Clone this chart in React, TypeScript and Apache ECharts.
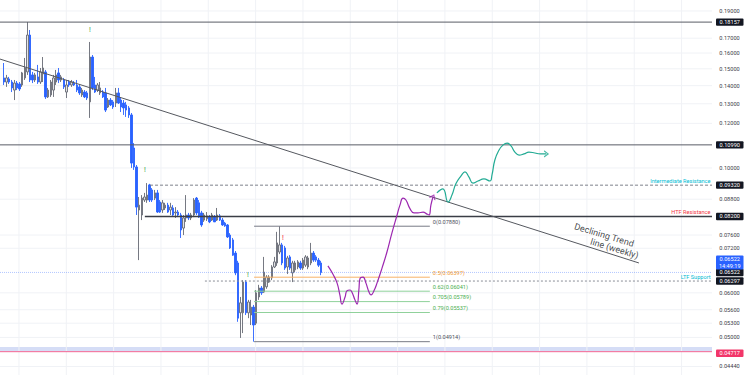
import React, { useEffect, useRef } from 'react';
import * as echarts from 'echarts';

// ---- candles: [open, close, low, high]
const ohlc: number[][] = [
  [0.1445,0.1421,0.1404,0.1536],[0.1421,0.1445,0.1393,0.1463],[0.1439,0.1421,0.1410,0.1451],[0.1421,0.1387,0.1364,0.1433],
  [0.1375,0.1415,0.1320,0.1433],[0.1415,0.1387,0.1375,0.1427],[0.1410,0.1381,0.1370,0.1421],[0.1404,0.1475,0.1393,0.1481],
  [0.1445,0.1505,0.1433,0.1568],[0.1481,0.1722,0.1463,0.1816],[0.1722,0.1433,0.1421,0.1758],[0.1463,0.1433,0.1415,0.1481],
  [0.1433,0.1463,0.1421,0.1475],[0.1451,0.1421,0.1410,0.1524],[0.1421,0.1481,0.1410,0.1505],[0.1469,0.1505,0.1421,0.1574],
  [0.1481,0.1337,0.1326,0.1493],[0.1337,0.1375,0.1331,0.1387],[0.1348,0.1421,0.1337,0.1433],[0.1375,0.1445,0.1337,0.1463],
  [0.1421,0.1463,0.1404,0.1493],[0.1475,0.1433,0.1415,0.1505],[0.1433,0.1451,0.1421,0.1463],[0.1433,0.1393,0.1381,0.1445],
  [0.1364,0.1404,0.1331,0.1433],[0.1421,0.1404,0.1393,0.1433],[0.1404,0.1421,0.1393,0.1433],[0.1415,0.1404,0.1398,0.1427],
  [0.1404,0.1375,0.1364,0.1433],[0.1393,0.1359,0.1348,0.1404],[0.1348,0.1375,0.1337,0.1387],[0.1364,0.1337,0.1331,0.1375],
  [0.1359,0.1331,0.1320,0.1370],[0.1310,0.1574,0.1227,0.1674],[0.1574,0.1387,0.1375,0.1587],[0.1404,0.1364,0.1359,0.1451],
  [0.1375,0.1404,0.1364,0.1415],[0.1359,0.1387,0.1348,0.1421],[0.1364,0.1337,0.1331,0.1375],[0.1359,0.1267,0.1257,0.1387],
  [0.1283,0.1320,0.1278,0.1331],[0.1320,0.1294,0.1288,0.1331],[0.1310,0.1283,0.1273,0.1320],[0.1304,0.1359,0.1283,0.1387],
  [0.1359,0.1304,0.1299,0.1387],[0.1320,0.1283,0.1257,0.1331],[0.1304,0.1278,0.1242,0.1320],[0.1294,0.1267,0.1232,0.1310],
  [0.1278,0.1242,0.1227,0.1288],[0.1242,0.1020,0.1000,0.1252],[0.1085,0.1004,0.0992,0.1107],[0.1004,0.0852,0.0825,0.1012],
  [0.0842,0.0859,0.0686,0.0888],[0.0825,0.0884,0.0808,0.0895],[0.0877,0.0888,0.0870,0.0903],[0.0877,0.0895,0.0867,0.0940],
  [0.0933,0.0877,0.0870,0.0937],[0.0914,0.0877,0.0870,0.0921],[0.0884,0.0903,0.0877,0.0914],[0.0903,0.0835,0.0832,0.0914],
  [0.0870,0.0835,0.0832,0.0877],[0.0842,0.0867,0.0832,0.0877],[0.0849,0.0859,0.0842,0.0867],[0.0859,0.0835,0.0832,0.0867],
  [0.0842,0.0852,0.0825,0.0867],[0.0849,0.0825,0.0822,0.0859],[0.0832,0.0835,0.0815,0.0852],[0.0835,0.0825,0.0818,0.0842],
  [0.0825,0.0776,0.0751,0.0832],[0.0782,0.0815,0.0760,0.0825],[0.0815,0.0825,0.0802,0.0895],[0.0825,0.0815,0.0808,0.0832],
  [0.0815,0.0825,0.0808,0.0832],[0.0825,0.0877,0.0818,0.0884],[0.0884,0.0832,0.0825,0.0888],[0.0867,0.0818,0.0815,0.0877],
  [0.0832,0.0792,0.0786,0.0839],[0.0808,0.0825,0.0802,0.0832],[0.0812,0.0822,0.0805,0.0835],[0.0818,0.0802,0.0798,0.0825],
  [0.0808,0.0825,0.0805,0.0832],[0.0818,0.0802,0.0802,0.0825],[0.0808,0.0825,0.0805,0.0849],[0.0822,0.0808,0.0805,0.0828],
  [0.0808,0.0792,0.0789,0.0815],[0.0798,0.0789,0.0786,0.0802],[0.0792,0.0754,0.0751,0.0795],[0.0760,0.0721,0.0718,0.0766],
  [0.0745,0.0700,0.0698,0.0751],[0.0706,0.0651,0.0645,0.0712],[0.0678,0.0541,0.0533,0.0684],[0.0553,0.0576,0.0499,0.0590],
  [0.0553,0.0627,0.0509,0.0632],[0.0627,0.0553,0.0548,0.0632],[0.0553,0.0578,0.0541,0.0583],[0.0548,0.0566,0.0526,0.0583],
  [0.0566,0.0526,0.04914,0.0571],[0.0530,0.0600,0.0526,0.0607],[0.0590,0.0612,0.0583,0.0620],[0.0612,0.0600,0.0595,0.0617],
  [0.0602,0.0653,0.0600,0.0695],[0.0615,0.0640,0.0610,0.0645],[0.0627,0.0640,0.0625,0.0645],[0.0638,0.0667,0.0632,0.0672],
  [0.0667,0.0681,0.0664,0.0695],[0.0678,0.0736,0.0670,0.0770],[0.0709,0.0730,0.0703,0.0788],[0.0730,0.0678,0.0672,0.0736],
  [0.0721,0.0664,0.0659,0.0727],[0.0667,0.0692,0.0648,0.0698],[0.0695,0.0664,0.0659,0.0700],[0.0651,0.0678,0.0627,0.0684],
  [0.0659,0.0678,0.0653,0.0684],[0.0667,0.0681,0.0661,0.0686],[0.0678,0.0664,0.0659,0.0684],[0.0664,0.0686,0.0659,0.0692],
  [0.0672,0.0695,0.0667,0.0700],[0.0667,0.0692,0.0661,0.0698],[0.0678,0.0706,0.0672,0.0736],[0.0706,0.0686,0.0681,0.0712],
  [0.0695,0.0686,0.0681,0.0700],[0.0686,0.0672,0.0667,0.0692],[0.0678,0.06522,0.0645,0.0684],
];

// ---- axis ticks
const axisTicks = [0.19, 0.17, 0.16, 0.15, 0.14, 0.13, 0.12, 0.10, 0.088, 0.076, 0.072, 0.06, 0.056, 0.053, 0.05, 0.0444];
const gridX = [5.8, 24, 42.2, 60.4, 78.6, 96.8, 115, 133.2, 151.4, 169.6, 187.8, 206, 224.2, 242.4, 260.6];

// ---- levels
const athPrice = 0.18157;
const majorPrice = 0.1099;
const interResPrice = 0.0932;
const interResStart = 56.2;
const htfResPrice = 0.082;
const htfResStart = 54.2;
const ltfSupportPrice = 0.06297;
const ltfSupportStart = 77.3;
const lastPrice = 0.06522;
const lastTime = '14:49:19';
const lowPrice = 0.04717;
const lowBand = [0.0473, 0.0481];
const darkTagPrices = [0.18157, 0.1099, 0.0932, 0.082, 0.06522, 0.06297];

const noteTexts = ['Intermediate Resistance', 'HTF Resistance', 'LTF Support'];
const notePrices = [0.0932, 0.082, 0.06297];

// ---- fibonacci
const fibNames = ['0', '0.5', '0.62', '0.705', '0.79', '1'];
const fibPrices = [0.0788, 0.06397, 0.06041, 0.05789, 0.05537, 0.04914];
const fibStart = 96.2;
const fibEnd = 163.8;

// ---- trend line
const trendLine = [[-1.5, 0.1561], [244.2, 0.0678]];
const trendText = ['Declining Trend', 'line (weekly)'];
const trendTextPos = [[230.8, 0.07600], [234.8, 0.07190]];

// ---- signals
const signalX = [33.1, 54.2, 93.8, 107.3];
const signalP = [0.1758, 0.0992, 0.0646, 0.0751];
const signalKind = ['up', 'up', 'up', 'down'];

// ---- projections
const purplePath = [
  [124.6,0.0670],[126.5,0.0648],[128.1,0.0625],[129.2,0.0595],[130.0,0.0573],[131.2,0.0590],[131.9,0.0605],
  [133.1,0.0607],[133.8,0.0602],[135.0,0.0583],[135.8,0.0573],[136.5,0.0607],[136.9,0.0635],[138.1,0.0640],
  [139.2,0.0625],[140.4,0.0602],[141.2,0.0595],[142.3,0.0605],[143.5,0.0625],[145.4,0.0664],[147.3,0.0709],
  [149.2,0.0766],[151.2,0.0825],[152.3,0.0859],[153.5,0.0884],[154.6,0.0877],[156.2,0.0846],[157.7,0.0832],
  [159.2,0.0832],[161.2,0.0835],[162.7,0.0828],[163.5,0.0825],[164.2,0.0859],[165.0,0.0888],
];
const tealPath = [
  [166.5,0.0903],[168.8,0.0918],[170.8,0.0870],[172.3,0.0895],[173.8,0.0937],[175.8,0.0968],[177.3,0.0984],
  [178.8,0.0964],[180.4,0.0940],[182.3,0.0948],[184.6,0.0956],[186.9,0.0948],[187.7,0.0972],[188.8,0.1033],
  [190.4,0.1076],[191.9,0.1098],[193.5,0.1107],[195.0,0.1094],[196.5,0.1067],[198.1,0.1054],[200.0,0.1059],
  [201.9,0.1067],[204.2,0.1063],[206.2,0.1059],[208.5,0.1059],
];

const X_MIN = -1.5;
const X_MAX = 272.3;
const Y_MIN = 0.04288;
const Y_MAX = 0.19874;

export default function App() {
  const ref = useRef<HTMLDivElement>(null);
  useEffect(() => {
    const chart = echarts.init(ref.current as HTMLDivElement, null, { renderer: 'svg' });
    const FONT = 'Roboto';
    const TAG_FS = 5.6;

    const hLine = (x1: number, x2: number, price: number, lineStyle: any, z = 4) => ({
      type: 'line', data: [[x1, price], [x2, price]], symbol: 'none', silent: true, z, lineStyle,
    });

    const fibLine = ['#787b86', '#f7b267', '#8fd19a', '#8fd19a', '#8fd19a', '#787b86'];
    const fibText = ['#50535e', '#f39c35', '#4caf50', '#4caf50', '#4caf50', '#50535e'];
    const noteColors = ['#00bcd4', '#f23645', '#00bcd4'];

    const series: any[] = [];

    // grid lines + tick labels
    series.push({
      type: 'custom', silent: true, z: 1,
      data: axisTicks.map((p) => [X_MIN, p]),
      renderItem: (params: any, api: any) => {
        const cs = params.coordSys;
        const y = api.coord([X_MIN, api.value(1)])[1];
        return {
          type: 'group', children: [
            { type: 'line', shape: { x1: cs.x, y1: y, x2: cs.x + cs.width, y2: y }, style: { stroke: '#f0f2f6', lineWidth: 1 } },
            { type: 'text', x: cs.x + cs.width + 17.5, y, style: { text: api.value(1).toFixed(5), fill: '#3d4049', fontSize: TAG_FS, fontFamily: FONT, align: 'center', verticalAlign: 'middle' } },
          ],
        };
      },
    });
    series.push({
      type: 'custom', silent: true, z: 1,
      data: gridX.map((x) => [x, Y_MAX]),
      renderItem: (params: any, api: any) => {
        const cs = params.coordSys;
        const x = api.coord([api.value(0), Y_MAX])[0];
        return { type: 'line', shape: { x1: x, y1: cs.y, x2: x, y2: cs.y + cs.height }, style: { stroke: '#f0f2f6', lineWidth: 1 } };
      },
    });

    // band + low line
    series.push({
      ...hLine(X_MIN, X_MAX, lowPrice, { color: '#f06292', width: 1 }, 2),
      markArea: { silent: true, itemStyle: { color: '#d5ddf6' }, data: [[{ yAxis: lowBand[0] }, { yAxis: lowBand[1] }]] },
    });

    // candles
    series.push({
      type: 'candlestick', z: 3, barWidth: 1.9,
      encode: { x: 0, y: [1, 2, 3, 4] },
      data: ohlc.map((d, i) => [i, d[0], d[1], d[2], d[3]]),
      itemStyle: { color: '#e3e4e8', color0: '#2962ff', borderColor: '#676a74', borderColor0: '#2962ff', borderWidth: 0.9 },
    });

    // levels
    series.push(hLine(X_MIN, X_MAX, athPrice, { color: '#5a5d66', width: 1 }));
    series.push(hLine(X_MIN, X_MAX, majorPrice, { color: '#5a5d66', width: 1 }));
    series.push(hLine(interResStart, X_MAX, interResPrice, { color: '#7d808a', width: 1, type: [3, 2] }));
    series.push(hLine(htfResStart, X_MAX, htfResPrice, { color: '#3a3d46', width: 1.5 }));
    series.push(hLine(ltfSupportStart, X_MAX, ltfSupportPrice, { color: '#8a8d96', width: 1, type: [2, 2] }));
    series.push(hLine(X_MIN, X_MAX, lastPrice, { color: 'rgba(41,98,255,0.35)', width: 1, type: [1, 1] }));

    // fib
    fibPrices.forEach((p, k) => series.push(hLine(fibStart, fibEnd, p, { color: fibLine[k], width: 1 })));
    series.push({
      type: 'custom', silent: true, z: 5,
      data: fibPrices.map((p) => [fibEnd, p]),
      renderItem: (params: any, api: any) => {
        const pt = api.coord([fibEnd, api.value(1)]);
        const k = params.dataIndex;
        return { type: 'text', x: pt[0] + 3, y: pt[1] - 1.2, style: { text: `${fibNames[k]}(${fibPrices[k].toFixed(5)})`, fill: fibText[k], fontSize: TAG_FS, fontFamily: FONT, align: 'left', verticalAlign: 'bottom' } };
      },
    });

    // trend line
    series.push({ type: 'line', data: trendLine, symbol: 'none', silent: true, z: 4, lineStyle: { color: '#55585f', width: 1 } });
    series.push({
      type: 'scatter', silent: true, z: 6, symbolSize: 1, itemStyle: { color: 'rgba(0,0,0,0)' },
      data: trendTextPos.map((p, k) => ({ value: p, label: { formatter: trendText[k] } })),
      label: { show: true, position: 'inside', rotate: -17, color: '#131722', fontSize: 9, fontFamily: FONT },
    });

    // notes
    series.push({
      type: 'custom', silent: true, z: 5,
      data: notePrices.map((p) => [X_MAX, p]),
      renderItem: (params: any, api: any) => {
        const cs = params.coordSys;
        const y = api.coord([X_MAX, api.value(1)])[1];
        const k = params.dataIndex;
        return { type: 'text', x: cs.x + cs.width - 1.5, y: y - 1.5, style: { text: noteTexts[k], fill: noteColors[k], fontSize: TAG_FS, fontFamily: FONT, align: 'right', verticalAlign: 'bottom' } };
      },
    });

    // signals
    series.push({
      type: 'scatter', silent: true, z: 6, symbolSize: 1, itemStyle: { color: 'rgba(0,0,0,0)' },
      data: signalX.map((x, k) => ({ value: [x, signalP[k]], label: { color: signalKind[k] === 'up' ? '#4caf50' : '#f23645' } })),
      label: { show: true, position: 'inside', formatter: '!', fontSize: 6.5, fontWeight: 'bold', fontFamily: FONT },
    });

    // projections
    series.push({ type: 'line', data: purplePath, smooth: 0.5, symbol: 'none', silent: true, z: 6, lineStyle: { color: '#9c27b0', width: 1.2 } });
    series.push({ type: 'line', data: tealPath, smooth: 0.5, symbol: 'none', silent: true, z: 6, lineStyle: { color: '#22ab94', width: 1.2 } });
    series.push({
      type: 'scatter', silent: true, z: 7,
      symbol: 'path://M0,0L10,6L0,12', symbolSize: [4, 6],
      data: [
        { value: purplePath[purplePath.length - 1], symbolRotate: 65, itemStyle: { borderColor: '#9c27b0' } },
        { value: tealPath[tealPath.length - 1], symbolRotate: 0, itemStyle: { borderColor: '#22ab94' } },
      ],
      itemStyle: { color: 'rgba(0,0,0,0)', borderWidth: 1.1 },
    });

    // price tags
    const tagSeries = (prices: number[], fill: string, extra?: string, dy = 0) => ({
      type: 'custom', silent: true, z: 8,
      data: prices.map((p) => [X_MAX, p]),
      renderItem: (params: any, api: any) => {
        const cs = params.coordSys;
        const y = api.coord([X_MAX, api.value(1)])[1] + dy;
        const x0 = cs.x + cs.width + 4;
        const h = extra ? 14 : 7.4;
        const text = api.value(1).toFixed(5) + (extra ? '\n' + extra : '');
        return {
          type: 'group', children: [
            { type: 'rect', shape: { x: x0, y: y - h / 2, width: 27.5, height: h, r: 1 }, style: { fill } },
            { type: 'text', x: x0 + 13.75, y, style: { text, fill: '#ffffff', fontSize: TAG_FS, lineHeight: 7, fontFamily: FONT, align: 'center', verticalAlign: 'middle' } },
          ],
        };
      },
    });
    series.push(tagSeries(darkTagPrices, '#131722'));
    series.push(tagSeries([lowPrice], '#f23669', undefined, 1.5));
    series.push(tagSeries([lastPrice], '#2962ff', lastTime, -10));

    chart.setOption({
      animation: false,
      backgroundColor: '#ffffff',
      grid: { left: 0, right: 38, top: 0, bottom: 0 },
      xAxis: { type: 'value', min: X_MIN, max: X_MAX, show: false },
      yAxis: { type: 'log', logBase: 10, min: Y_MIN, max: Y_MAX, show: false },
      series,
    });
    return () => chart.dispose();
  }, []);
  return <div ref={ref} style={{ position: 'fixed', left: 0, top: 0, width: 750, height: 375, background: '#fff' }} />;
}
